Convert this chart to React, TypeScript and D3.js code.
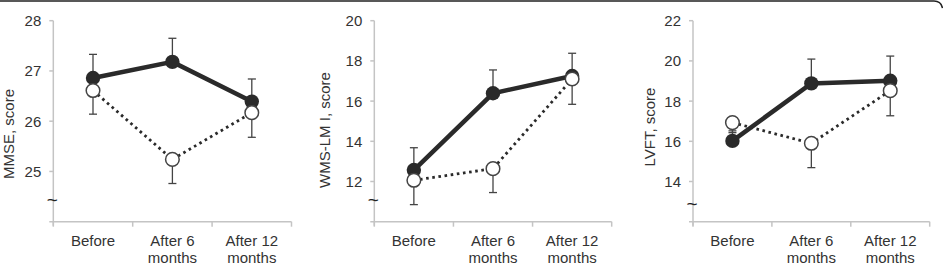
import * as d3 from "d3";

// x categories, each split into the two lines shown under the axis
const categories = ["Before", "After 6 months", "After 12 months"];
const categoryLines = [["Before"], ["After 6", "months"], ["After 12", "months"]];

// MMSE panel
const mmseTicks = [25, 26, 27, 28];
const mmseFilled = [26.86, 27.18, 26.39];
const mmseFilledErr = [0.47, 0.47, 0.45];
const mmseOpen = [26.61, 25.24, 26.17];
const mmseOpenErr = [0.47, 0.48, 0.49];

// WMS-LM I panel
const wmsTicks = [12, 14, 16, 18, 20];
const wmsFilled = [12.57, 16.39, 17.25];
const wmsFilledErr = [1.11, 1.16, 1.13];
const wmsOpen = [12.06, 12.64, 17.1];
const wmsOpenErr = [1.21, 1.19, 1.26];

// LVFT panel
const lvftTicks = [14, 16, 18, 20, 22];
const lvftFilled = [16.02, 18.88, 19.01];
const lvftFilledErr = [0.5, 1.21, 1.23];
const lvftOpen = [16.93, 15.9, 18.52];
const lvftOpenErr = [0.5, 1.21, 1.25];

type Panel = {
  label: string;
  domain: [number, number];
  ticks: number[];
  filled: number[];
  filledErr: number[];
  open: number[];
  openErr: number[];
  x0: number;
  x1: number;
  breakY: number;
  labelX: number;
  labelY: number;
};

const panels: Panel[] = [
  { label: "MMSE, score", domain: [24, 28], ticks: mmseTicks, filled: mmseFilled, filledErr: mmseFilledErr,
    open: mmseOpen, openErr: mmseOpenErr, x0: 53.3, x1: 291.5, breakY: 200, labelX: 13.5, labelY: 134 },
  { label: "WMS-LM I, score", domain: [10, 20], ticks: wmsTicks, filled: wmsFilled, filledErr: wmsFilledErr,
    open: wmsOpen, openErr: wmsOpenErr, x0: 374.3, x1: 611.7, breakY: 199.5, labelX: 330, labelY: 130 },
  { label: "LVFT, score", domain: [12, 22], ticks: lvftTicks, filled: lvftFilled, filledErr: lvftFilledErr,
    open: lvftOpen, openErr: lvftOpenErr, x0: 693, x1: 929.7, breakY: 204, labelX: 655, labelY: 127 },
];

const yTop = 20.7;
const yBot = 221.7;
const axisColor = "#c4c4c4";
const ink = "#2a2a2a";
const font = "'Liberation Sans', Arial, Helvetica, sans-serif";

const ChartPanel = ({ p }: { p: Panel }) => {
  const x = d3.scaleBand<string>().domain(categories).range([p.x0, p.x1]);
  const y = d3.scaleLinear().domain(p.domain).range([yBot, yTop]);
  const cx = (c: string) => (x(c) ?? 0) + x.bandwidth() / 2;

  const line = d3.line<number>()
    .x((_, i) => cx(categories[i]))
    .y(d => y(d));

  const bounds = [p.x0, ...categories.map(c => (x(c) ?? 0) + x.bandwidth())];

  return (
    <g fontFamily={font}>
      {/* y axis */}
      <line x1={p.x0} x2={p.x0} y1={yTop} y2={yBot + 4} stroke={axisColor} strokeWidth={1.5} />
      {p.ticks.map(t => (
        <g key={t}>
          <line x1={p.x0 - 4} x2={p.x0} y1={y(t)} y2={y(t)} stroke={axisColor} strokeWidth={1.5} />
          <text x={p.x0 - 12} y={y(t)} dy="0.36em" textAnchor="end" fontSize={15} fill="#333">{t}</text>
        </g>
      ))}
      <text x={p.x0 - 1} y={p.breakY} dy="0.32em" textAnchor="middle" fontSize={19} fill="#222">~</text>
      {/* x axis */}
      <line x1={p.x0 - 4} x2={p.x1} y1={yBot} y2={yBot} stroke={axisColor} strokeWidth={1.5} />
      {bounds.map((b, i) => (
        <line key={i} x1={b} x2={b} y1={yBot} y2={yBot + 5} stroke={axisColor} strokeWidth={1.5} />
      ))}
      {categories.map((c, i) => (
        <text key={c} x={cx(c)} y={246} textAnchor="middle" fontSize={15} fill="#333">
          {categoryLines[i].map((l, j) => (
            <tspan key={j} x={cx(c)} dy={j === 0 ? 0 : 17}>{l}</tspan>
          ))}
        </text>
      ))}
      {/* y label */}
      <text transform={`translate(${p.labelX},${p.labelY}) rotate(-90)`} textAnchor="middle" fontSize={15} fill="#333">
        {p.label}
      </text>
      {/* error bars */}
      {categories.map((c, i) => {
        const xc = cx(c);
        const top = y(p.filled[i] + p.filledErr[i]);
        const bot = y(p.open[i] - p.openErr[i]);
        return (
          <g key={c} stroke="#444" strokeWidth={1.3}>
            <line x1={xc} x2={xc} y1={y(p.filled[i])} y2={top} />
            <line x1={xc - 4} x2={xc + 4} y1={top} y2={top} />
            <line x1={xc} x2={xc} y1={y(p.open[i])} y2={bot} />
            <line x1={xc - 4} x2={xc + 4} y1={bot} y2={bot} />
          </g>
        );
      })}
      <path d={line(p.open) ?? ""} fill="none" stroke={ink} strokeWidth={2.8} strokeDasharray="2.6 3.6" />
      <path d={line(p.filled) ?? ""} fill="none" stroke={ink} strokeWidth={4.5} />
      {p.filled.map((v, i) => (
        <circle key={"f" + i} cx={cx(categories[i])} cy={y(v)} r={7.2} fill={ink} />
      ))}
      {p.open.map((v, i) => (
        <circle key={"o" + i} cx={cx(categories[i])} cy={y(v)} r={6.8} fill="#fff" stroke="#444" strokeWidth={1.5} />
      ))}
    </g>
  );
};

export default function App() {
  return (
    <svg width={943} height={266} style={{ position: "absolute", left: 0, top: 0, background: "#fff" }}>
      <path d="M0,1 H934 Q941,1 942.5,8" fill="none" stroke="#222" strokeWidth={1.5} />
      {panels.map(p => <ChartPanel key={p.label} p={p} />)}
    </svg>
  );
}
